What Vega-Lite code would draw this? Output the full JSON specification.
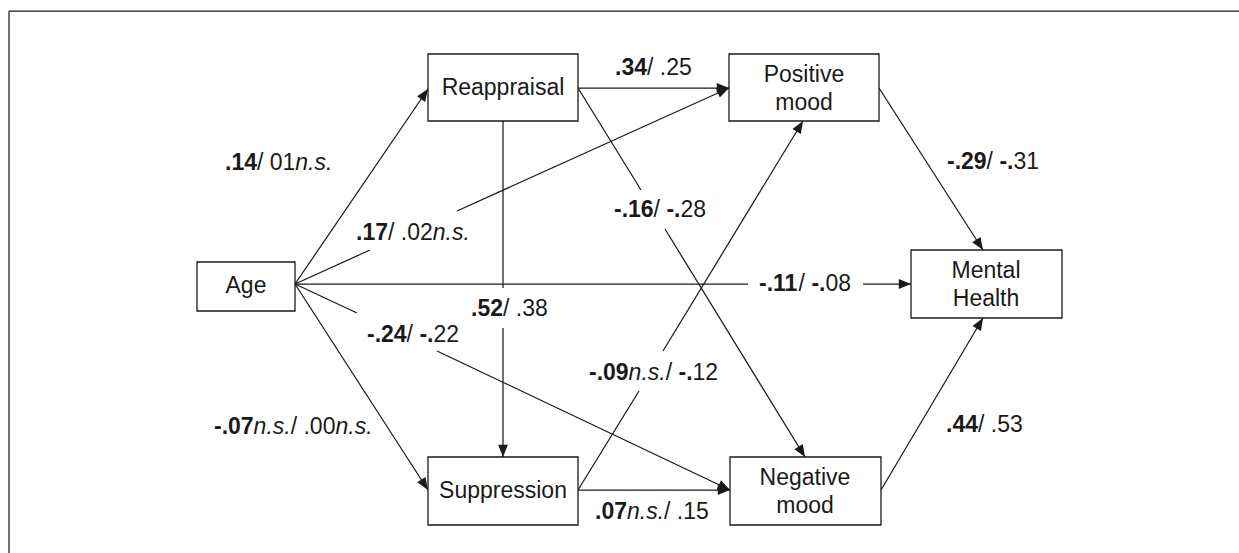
{
  "$schema": "https://vega.github.io/schema/vega-lite/v6.json",
  "width": 1239,
  "height": 553,
  "padding": 0,
  "autosize": {"type": "none"},
  "background": "white",
  "config": {"view": {"stroke": null}},
  "datasets": {
    "segments": [
      {"edge": "frame", "x": 9, "y": 11, "x2": 1239, "y2": 11, "head": false},
      {"edge": "frame", "x": 9, "y": 11, "x2": 9, "y2": 553, "head": false},
      {"edge": "Age-Reappraisal", "x": 295, "y": 284, "x2": 428, "y2": 89, "head": true},
      {"edge": "Age-Positive", "x": 295, "y": 284, "x2": 370, "y2": 250, "head": false},
      {"edge": "Age-Positive", "x": 457, "y": 211, "x2": 729, "y2": 88, "head": true},
      {"edge": "Age-Mental", "x": 295, "y": 284, "x2": 748, "y2": 284, "head": false},
      {"edge": "Age-Mental", "x": 863, "y": 284, "x2": 911, "y2": 284, "head": true},
      {"edge": "Age-Negative", "x": 295, "y": 284, "x2": 357, "y2": 313, "head": false},
      {"edge": "Age-Negative", "x": 437, "y": 351, "x2": 730, "y2": 490, "head": true},
      {"edge": "Age-Suppression", "x": 295, "y": 284, "x2": 428, "y2": 490, "head": true},
      {"edge": "Reappraisal-Positive", "x": 578, "y": 88, "x2": 729, "y2": 88, "head": true},
      {"edge": "Reappraisal-Suppression", "x": 503, "y": 121, "x2": 503, "y2": 288, "head": false},
      {"edge": "Reappraisal-Suppression", "x": 503, "y": 328, "x2": 503, "y2": 457, "head": true},
      {"edge": "Reappraisal-Negative", "x": 578, "y": 88, "x2": 641, "y2": 190, "head": false},
      {"edge": "Reappraisal-Negative", "x": 665, "y": 229, "x2": 805, "y2": 457, "head": true},
      {"edge": "Suppression-Positive", "x": 578, "y": 490, "x2": 639, "y2": 391, "head": false},
      {"edge": "Suppression-Positive", "x": 663, "y": 351, "x2": 803, "y2": 121, "head": true},
      {"edge": "Suppression-Negative", "x": 578, "y": 490, "x2": 730, "y2": 490, "head": true},
      {"edge": "Positive-Mental", "x": 879, "y": 88, "x2": 983, "y2": 250, "head": true},
      {"edge": "Negative-Mental", "x": 881, "y": 490, "x2": 983, "y2": 318, "head": true}
    ],
    "boxes": [
      {"node": "Age", "x": 197, "y": 262, "x2": 295, "y2": 311, "cx": 246, "cy": 286},
      {"node": "Reappraisal", "x": 428, "y": 54, "x2": 578, "y2": 121, "cx": 503, "cy": 88},
      {"node": "Positive\nmood", "x": 729, "y": 54, "x2": 879, "y2": 121, "cx": 804, "cy": 89},
      {"node": "Mental\nHealth", "x": 911, "y": 250, "x2": 1062, "y2": 318, "cx": 986, "cy": 284.5},
      {"node": "Suppression", "x": 428, "y": 457, "x2": 578, "y2": 525, "cx": 503, "cy": 491},
      {"node": "Negative\nmood", "x": 730, "y": 457, "x2": 881, "y2": 525, "cx": 805, "cy": 491.5}
    ],
    "labels": [
      {"path": "Age-Reappraisal", "role": "g1", "text": ".14", "x": 225, "y": 163},
      {"path": "Age-Reappraisal", "role": "g2", "text": "/ 01", "x": 257, "y": 163},
      {"path": "Age-Reappraisal", "role": "ns", "text": "n.s.", "x": 295.3, "y": 163},

      {"path": "Age-Positive", "role": "g1", "text": ".17", "x": 356, "y": 233},
      {"path": "Age-Positive", "role": "g2", "text": "/ .02", "x": 388, "y": 233},
      {"path": "Age-Positive", "role": "ns", "text": "n.s.", "x": 432.7, "y": 233},

      {"path": "Reappraisal-Positive", "role": "g1", "text": ".34", "x": 615, "y": 68},
      {"path": "Reappraisal-Positive", "role": "g2", "text": "/ .25", "x": 647, "y": 68},

      {"path": "Reappraisal-Negative", "role": "g1", "text": "-.16", "x": 614, "y": 210},
      {"path": "Reappraisal-Negative", "role": "sep", "text": "/ ", "x": 653.6, "y": 210},
      {"path": "Reappraisal-Negative", "role": "sign", "text": "-.", "x": 666.4, "y": 210},
      {"path": "Reappraisal-Negative", "role": "g2", "text": "28", "x": 680.5, "y": 210},

      {"path": "Positive-Mental", "role": "g1", "text": "-.29", "x": 947, "y": 162},
      {"path": "Positive-Mental", "role": "sep", "text": "/ ", "x": 986.6, "y": 162},
      {"path": "Positive-Mental", "role": "sign", "text": "-.", "x": 999.4, "y": 162},
      {"path": "Positive-Mental", "role": "g2", "text": "31", "x": 1013.5, "y": 162},

      {"path": "Age-Mental", "role": "g1", "text": "-.11", "x": 759, "y": 284},
      {"path": "Age-Mental", "role": "sep", "text": "/ ", "x": 798.6, "y": 284},
      {"path": "Age-Mental", "role": "sign", "text": "-.", "x": 811.4, "y": 284},
      {"path": "Age-Mental", "role": "g2", "text": "08", "x": 825.5, "y": 284},

      {"path": "Reappraisal-Suppression", "role": "g1", "text": ".52", "x": 471, "y": 309},
      {"path": "Reappraisal-Suppression", "role": "g2", "text": "/ .38", "x": 503, "y": 309},

      {"path": "Age-Negative", "role": "g1", "text": "-.24", "x": 367, "y": 335},
      {"path": "Age-Negative", "role": "sep", "text": "/ ", "x": 406.6, "y": 335},
      {"path": "Age-Negative", "role": "sign", "text": "-.", "x": 419.4, "y": 335},
      {"path": "Age-Negative", "role": "g2", "text": "22", "x": 433.5, "y": 335},

      {"path": "Age-Suppression", "role": "g1", "text": "-.07", "x": 214, "y": 427},
      {"path": "Age-Suppression", "role": "ns", "text": "n.s.", "x": 253.6, "y": 427},
      {"path": "Age-Suppression", "role": "g2", "text": "/ .00", "x": 290.7, "y": 427},
      {"path": "Age-Suppression", "role": "ns", "text": "n.s.", "x": 335.5, "y": 427},

      {"path": "Suppression-Positive", "role": "g1", "text": "-.09", "x": 589, "y": 373},
      {"path": "Suppression-Positive", "role": "ns", "text": "n.s.", "x": 628.6, "y": 373},
      {"path": "Suppression-Positive", "role": "sep", "text": "/ ", "x": 665.7, "y": 373},
      {"path": "Suppression-Positive", "role": "sign", "text": "-.", "x": 678.5, "y": 373},
      {"path": "Suppression-Positive", "role": "g2", "text": "12", "x": 692.5, "y": 373},

      {"path": "Suppression-Negative", "role": "g1", "text": ".07", "x": 595, "y": 512},
      {"path": "Suppression-Negative", "role": "ns", "text": "n.s.", "x": 627, "y": 512},
      {"path": "Suppression-Negative", "role": "g2", "text": "/ .15", "x": 664, "y": 512},

      {"path": "Negative-Mental", "role": "g1", "text": ".44", "x": 946, "y": 425},
      {"path": "Negative-Mental", "role": "g2", "text": "/ .53", "x": 978, "y": 425}
    ]
  },
  "encoding": {
    "x": {"field": "x", "type": "quantitative", "scale": {"domain": [0, 1239], "nice": false, "zero": false}, "axis": null},
    "y": {"field": "y", "type": "quantitative", "scale": {"domain": [0, 553], "nice": false, "zero": false, "reverse": true}, "axis": null}
  },
  "layer": [
    {
      "data": {"name": "segments"},
      "mark": {"type": "rule", "stroke": "#1a1a1a", "strokeWidth": 1.25},
      "encoding": {
        "x2": {"field": "x2"},
        "y2": {"field": "y2"}
      }
    },
    {
      "data": {"name": "boxes"},
      "mark": {"type": "rect", "fill": "white", "stroke": "#1a1a1a", "strokeWidth": 1.3},
      "encoding": {
        "x2": {"field": "x2"},
        "y2": {"field": "y2"}
      }
    },
    {
      "data": {"name": "segments"},
      "transform": [
        {"filter": "datum.head"},
        {"calculate": "atan2(datum.y2 - datum.y, datum.x2 - datum.x) * 180 / PI", "as": "angle"}
      ],
      "mark": {"type": "point", "shape": "M0,0L-2,-0.8L-2,0.8Z", "filled": true, "size": 150, "color": "#1a1a1a", "opacity": 1, "strokeWidth": 0},
      "encoding": {
        "x": {"field": "x2", "type": "quantitative"},
        "y": {"field": "y2", "type": "quantitative"},
        "angle": {"field": "angle", "type": "quantitative", "scale": null}
      }
    },
    {
      "data": {"name": "boxes"},
      "transform": [{"filter": "indexof(datum.node, '\\n') < 0"}],
      "mark": {"type": "text", "font": "Liberation Sans", "fontSize": 23, "align": "center", "baseline": "middle", "color": "#1a1a1a"},
      "encoding": {
        "x": {"field": "cx", "type": "quantitative"},
        "y": {"field": "cy", "type": "quantitative"},
        "text": {"field": "node"}
      }
    },
    {
      "data": {"name": "boxes"},
      "transform": [{"filter": "indexof(datum.node, '\\n') >= 0"}],
      "mark": {"type": "text", "font": "Liberation Sans", "fontSize": 23, "lineBreak": "\n", "lineHeight": 28, "dy": -14, "align": "center", "baseline": "middle", "color": "#1a1a1a"},
      "encoding": {
        "x": {"field": "cx", "type": "quantitative"},
        "y": {"field": "cy", "type": "quantitative"},
        "text": {"field": "node"}
      }
    },
    {
      "data": {"name": "labels"},
      "transform": [{"filter": "datum.role == 'g1' || datum.role == 'sign'"}],
      "mark": {"type": "text", "font": "Liberation Sans", "fontSize": 23, "fontWeight": "bold", "align": "left", "baseline": "middle", "color": "#1a1a1a"},
      "encoding": {"text": {"field": "text"}}
    },
    {
      "data": {"name": "labels"},
      "transform": [{"filter": "datum.role == 'g2' || datum.role == 'sep'"}],
      "mark": {"type": "text", "font": "Liberation Sans", "fontSize": 23, "align": "left", "baseline": "middle", "color": "#1a1a1a"},
      "encoding": {"text": {"field": "text"}}
    },
    {
      "data": {"name": "labels"},
      "transform": [{"filter": "datum.role == 'ns'"}],
      "mark": {"type": "text", "font": "Liberation Sans", "fontSize": 23, "fontStyle": "italic", "align": "left", "baseline": "middle", "color": "#1a1a1a"},
      "encoding": {"text": {"field": "text"}}
    }
  ]
}
